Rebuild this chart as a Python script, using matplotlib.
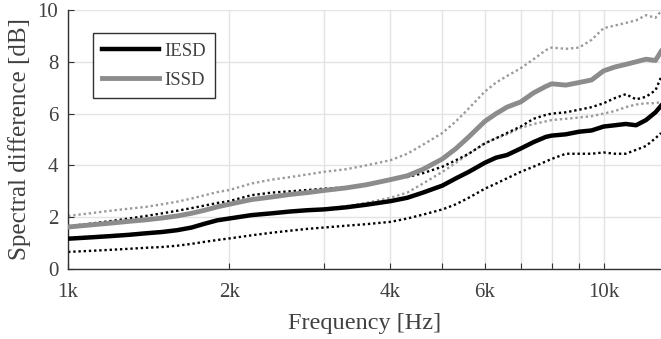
import numpy as np
import matplotlib
matplotlib.use("Agg")
import matplotlib.pyplot as plt

plt.rcParams['font.family'] = ['Liberation Serif', 'DejaVu Serif']

# frequency points [Hz]
freq = [1000, 1100, 1200, 1300, 1400, 1500, 1600, 1700, 1800, 1900, 2000,
        2200, 2400, 2600, 2800, 3000, 3300, 3600, 4000, 4300, 4600, 5000,
        5300, 5600, 6000, 6300, 6600, 7000, 7400, 7800, 8000, 8500, 9000,
        9500, 10000, 10500, 11000, 11500, 12000, 12500, 12800]

# IESD mean and spread
iesd = [1.17, 1.22, 1.27, 1.32, 1.38, 1.43, 1.50, 1.60, 1.75, 1.88, 1.95,
        2.08, 2.15, 2.22, 2.27, 2.30, 2.38, 2.48, 2.62, 2.75, 2.95, 3.22,
        3.50, 3.75, 4.10, 4.30, 4.40, 4.65, 4.90, 5.10, 5.15, 5.20, 5.30,
        5.35, 5.50, 5.55, 5.60, 5.55, 5.75, 6.05, 6.30]
iesd_hi = [1.65, 1.75, 1.85, 1.95, 2.05, 2.15, 2.25, 2.35, 2.45, 2.55, 2.62,
           2.85, 2.95, 3.00, 3.05, 3.10, 3.15, 3.25, 3.45, 3.55, 3.70, 3.95,
           4.20, 4.45, 4.85, 5.05, 5.25, 5.50, 5.80, 5.95, 6.00, 6.05, 6.15,
           6.25, 6.40, 6.60, 6.75, 6.55, 6.65, 6.90, 7.40]
iesd_lo = [0.66, 0.70, 0.74, 0.78, 0.82, 0.85, 0.90, 0.97, 1.05, 1.12, 1.18,
           1.30, 1.40, 1.48, 1.55, 1.60, 1.67, 1.73, 1.82, 1.95, 2.10, 2.30,
           2.50, 2.75, 3.10, 3.30, 3.50, 3.75, 3.95, 4.15, 4.25, 4.45, 4.45,
           4.45, 4.50, 4.45, 4.45, 4.60, 4.75, 5.05, 5.25]

# ISSD mean and spread
issd = [1.62, 1.70, 1.77, 1.84, 1.90, 1.97, 2.05, 2.15, 2.27, 2.40, 2.50,
        2.68, 2.78, 2.88, 2.95, 3.03, 3.13, 3.25, 3.45, 3.60, 3.85, 4.25,
        4.65, 5.10, 5.70, 6.00, 6.25, 6.45, 6.80, 7.05, 7.15, 7.10, 7.20,
        7.30, 7.65, 7.80, 7.90, 8.00, 8.10, 8.05, 8.40]
issd_hi = [2.05, 2.15, 2.25, 2.33, 2.40, 2.50, 2.60, 2.72, 2.85, 2.97, 3.05,
           3.30, 3.45, 3.55, 3.65, 3.75, 3.85, 4.00, 4.20, 4.45, 4.80, 5.25,
           5.70, 6.20, 6.85, 7.20, 7.45, 7.75, 8.10, 8.45, 8.55, 8.50, 8.55,
           8.85, 9.30, 9.40, 9.50, 9.60, 9.80, 9.70, 9.95]
issd_lo = [1.20, 1.25, 1.30, 1.35, 1.40, 1.45, 1.52, 1.62, 1.76, 1.88, 1.95,
           2.08, 2.16, 2.23, 2.28, 2.32, 2.42, 2.55, 2.75, 2.95, 3.30, 3.75,
           4.10, 4.45, 4.85, 5.05, 5.20, 5.45, 5.60, 5.70, 5.75, 5.80, 5.85,
           5.90, 6.00, 6.10, 6.25, 6.35, 6.40, 6.40, 6.45]

xticks = [1000, 2000, 3000, 4000, 5000, 6000, 7000, 8000, 9000, 10000]
xticklabels = ['1k', '2k', '', '4k', '', '6k', '', '', '', '10k']

black = '#000000'
gray = '#8c8c8c'
txt = '#404040'

fig = plt.figure(figsize=(6.61, 3.39), dpi=100)
ax = fig.add_axes([0.103, 0.2065, 0.897, 0.764])

dot = (0, (1, 1.2))
ax.plot(freq, issd_hi, color='#9a9a9a', lw=1.7, ls=dot)
ax.plot(freq, issd_lo, color='#9a9a9a', lw=1.7, ls=dot)
ax.plot(freq, iesd_hi, color=black, lw=1.7, ls=dot)
ax.plot(freq, iesd_lo, color=black, lw=1.7, ls=dot)
ax.plot(freq, iesd, color=black, lw=3.2, label='IESD', zorder=3)
ax.plot(freq, issd, color=gray, lw=3.5, label='ISSD', zorder=3)

ax.set_xscale('log')
ax.set_xlim(1000, 12800)
ax.set_ylim(0, 10)
ax.set_xticks(xticks)
ax.set_xticklabels(xticklabels)
ax.xaxis.set_minor_locator(matplotlib.ticker.NullLocator())
ax.set_yticks([0, 2, 4, 6, 8, 10])

ax.grid(True, color='#e3e3e3', lw=1.0)
ax.set_axisbelow(True)
for s in ['top', 'right']:
    ax.spines[s].set_visible(False)
for s in ['left', 'bottom']:
    ax.spines[s].set_color('#303030')
    ax.spines[s].set_linewidth(1.0)
ax.tick_params(direction='in', length=4, colors='#303030', labelsize=15,
               labelcolor=txt, pad=7)
ax.tick_params(axis='x', pad=10)

ax.set_xlabel('Frequency [Hz]', fontsize=17.5, color=txt, labelpad=8)
ax.set_ylabel('Spectral difference [dB]', fontsize=18, color=txt, labelpad=5)

leg = ax.legend(loc='upper left', bbox_to_anchor=(0.042, 0.911), fontsize=13.5,
                handlelength=3.0, handletextpad=0.3, borderpad=0.5,
                labelspacing=0.65, borderaxespad=0, fancybox=False,
                framealpha=1, edgecolor='#303030')
leg.get_frame().set_linewidth(1.0)
for t in leg.get_texts():
    t.set_color(txt)

fig.savefig('out.png', dpi=100)
